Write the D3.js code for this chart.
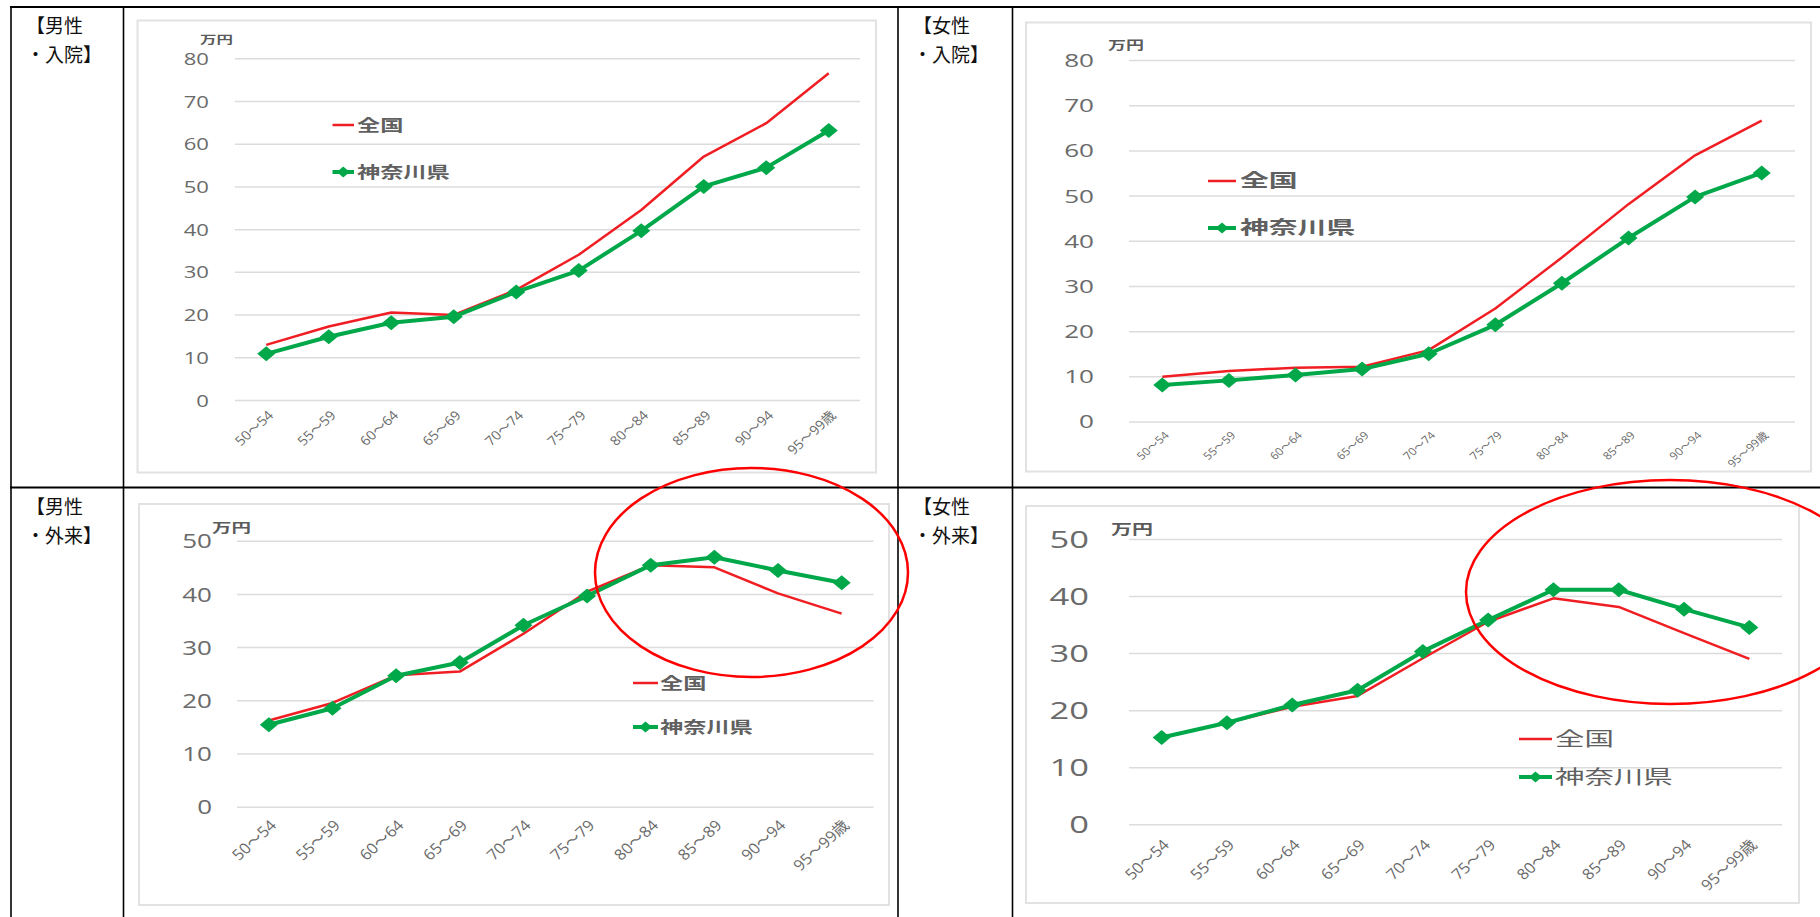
<!DOCTYPE html>
<html>
<head>
<meta charset="utf-8">
<script src="https://cdn.jsdelivr.net/npm/d3@7"></script>
<style>
  html, body { margin: 0; padding: 0; background: #fff; }
  svg { display: block; }
</style>
</head>
<body>
<svg id="chart" width="1820" height="917"></svg>
<script>
// ---- data -------------------------------------------------------------
const ageGroups = ["50～54", "55～59", "60～64", "65～69", "70～74",
                   "75～79", "80～84", "85～89", "90～94", "95～99歳"];
const seriesNames = ["全国", "神奈川県"];
const unitLabel = "万円";
const inpatientTicks = [0, 10, 20, 30, 40, 50, 60, 70, 80];
const outpatientTicks = [0, 10, 20, 30, 40, 50];

// 男性・入院
const maleInpatientNational = [12.9, 17.2, 20.5, 19.9, 25.8, 34.0, 44.5, 57.0, 64.8, 76.5];
const maleInpatientKanagawa = [10.8, 14.8, 18.1, 19.5, 25.3, 30.3, 39.6, 50.0, 54.4, 63.1];
// 女性・入院
const femaleInpatientNational = [9.9, 11.2, 11.9, 12.1, 15.8, 25.0, 36.3, 48.1, 58.9, 66.6];
const femaleInpatientKanagawa = [8.1, 9.1, 10.3, 11.6, 15.0, 21.4, 30.6, 40.6, 49.7, 55.0];
// 男性・外来
const maleOutpatientNational = [16.2, 19.5, 24.7, 25.4, 32.5, 40.4, 45.4, 45.0, 40.1, 36.3];
const maleOutpatientKanagawa = [15.4, 18.5, 24.6, 27.1, 34.1, 39.6, 45.4, 46.9, 44.4, 42.1];
// 女性・外来
const femaleOutpatientNational = [15.2, 17.8, 20.6, 22.5, 29.1, 35.5, 39.6, 38.1, 33.5, 29.0];
const femaleOutpatientKanagawa = [15.2, 17.8, 20.9, 23.5, 30.3, 35.8, 41.1, 41.1, 37.7, 34.5];

const panelTitles = [["【男性", "・入院】"], ["【女性", "・入院】"],
                     ["【男性", "・外来】"], ["【女性", "・外来】"]];

// ---- styles -----------------------------------------------------------
const RED = "#f01e23";
const GREEN = "#00a84a";
const GRID = "#dcdcdc";
const LABEL = "#6a6a6a";
const NUM_FONT = "'Open Sans', 'Noto Sans CJK JP', sans-serif";
const CJK_FONT = "'Noto Sans CJK JP', sans-serif";

const svg = d3.select("#chart");
svg.append("rect").attr("width", 1820).attr("height", 917).attr("fill", "#fff");

// ---- panel layout -----------------------------------------------------
const panels = [
  { title: panelTitles[0], titleX: 26, titleY: 33,
    national: maleInpatientNational, kanagawa: maleInpatientKanagawa, ticks: inpatientTicks,
    box: [137.5, 20.5, 876, 472.5],
    plot: { left: 235, right: 860, top: 58.3, bottom: 400 },
    tickRight: 209, tickSize: 17, sx: 1.3,
    unit: { x: 200, y: 44, size: 11 },
    legend: { x0: 332.5, x1: 354, y: [125, 172], tx: 357, size: 16, sx: 1.45, weight: 700 },
    xl: { dy: 13, size: 13, sx: 1.1 } },
  { title: panelTitles[1], titleX: 913, titleY: 33,
    national: femaleInpatientNational, kanagawa: femaleInpatientKanagawa, ticks: inpatientTicks,
    box: [1026, 22.5, 1811, 471.5],
    plot: { left: 1129, right: 1795, top: 60, bottom: 421.5 },
    tickRight: 1094, tickSize: 18, sx: 1.45,
    unit: { x: 1108, y: 50, size: 12 },
    legend: { x0: 1208, x1: 1236, y: [181, 228], tx: 1240, size: 18, sx: 1.6, weight: 700 },
    xl: { dy: 12, size: 10.5, sx: 1.15 } },
  { title: panelTitles[2], titleX: 26, titleY: 514,
    national: maleOutpatientNational, kanagawa: maleOutpatientKanagawa, ticks: outpatientTicks,
    box: [139, 504, 889, 905],
    plot: { left: 237, right: 873.5, top: 540.7, bottom: 806.7 },
    tickRight: 212, tickSize: 20, sx: 1.3,
    unit: { x: 212, y: 532, size: 13 },
    legend: { x0: 633, x1: 658, y: [683, 727], tx: 660, size: 16, sx: 1.45, weight: 700 },
    xl: { dy: 16, size: 15, sx: 1.1 } },
  { title: panelTitles[3], titleX: 913, titleY: 514,
    national: femaleOutpatientNational, kanagawa: femaleOutpatientKanagawa, ticks: outpatientTicks,
    box: [1026, 506, 1799, 903],
    plot: { left: 1129, right: 1782, top: 539, bottom: 824.3 },
    tickRight: 1089, tickSize: 23, sx: 1.5,
    unit: { x: 1111, y: 534, size: 14 },
    legend: { x0: 1519, x1: 1552, y: [739, 777], tx: 1555, size: 19, sx: 1.55, weight: 400 },
    xl: { dy: 18, size: 15, sx: 1.1 } }
];

function diamond(hw, hh) {
  return `M0,${-hh}L${hw},0L0,${hh}L${-hw},0Z`;
}

// ---- table frame ------------------------------------------------------
const frame = svg.append("g").attr("stroke", "#000").attr("fill", "none");
frame.append("line").attr("x1", 10).attr("x2", 1820).attr("y1", 7).attr("y2", 7).attr("stroke-width", 2);
frame.append("line").attr("x1", 10).attr("x2", 1820).attr("y1", 487.5).attr("y2", 487.5).attr("stroke-width", 2);
[11, 123.5, 898, 1012.5].forEach(xv => {
  frame.append("line").attr("x1", xv).attr("x2", xv).attr("y1", 6).attr("y2", 917).attr("stroke-width", 1.6);
});

// ---- panels -----------------------------------------------------------
panels.forEach(p => {
  // row label in the table cell
  const t = svg.append("g").attr("font-family", CJK_FONT).attr("font-size", 19).attr("fill", "#111");
  t.append("text").attr("x", p.titleX).attr("y", p.titleY).text(p.title[0]);
  t.append("text").attr("x", p.titleX).attr("y", p.titleY + 29).text(p.title[1]);

  const g = svg.append("g");
  const [bx0, by0, bx1, by1] = p.box;
  g.append("rect").attr("x", bx0).attr("y", by0).attr("width", bx1 - bx0).attr("height", by1 - by0)
    .attr("fill", "#fff").attr("stroke", "#e2e2e2").attr("stroke-width", 2);

  const x = d3.scalePoint().domain(ageGroups).range([p.plot.left, p.plot.right]).padding(0.5);
  const y = d3.scaleLinear().domain([0, d3.max(p.ticks)]).range([p.plot.bottom, p.plot.top]);
  const pad = p.plot.left - p.tickRight;

  // gridlines and value labels
  const ya = g.append("g").attr("transform", `translate(${p.plot.left},0)`)
    .call(d3.axisLeft(y).tickValues(p.ticks).tickSize(-(p.plot.right - p.plot.left)).tickPadding(pad));
  ya.select(".domain").remove();
  ya.selectAll(".tick line").attr("stroke", GRID).attr("stroke-width", 1.5);
  ya.selectAll(".tick text")
    .attr("x", 0).attr("dy", "0.36em")
    .attr("transform", `translate(${-pad},0) scale(${p.sx},1)`)
    .attr("fill", LABEL).attr("font-size", p.tickSize).attr("font-family", NUM_FONT);

  // age-group labels
  const xa = g.append("g").attr("transform", `translate(0,${p.plot.bottom})`)
    .call(d3.axisBottom(x).tickSize(0));
  xa.select(".domain").remove();
  xa.selectAll(".tick text")
    .attr("y", 0).attr("dy", "0.35em").attr("text-anchor", "end")
    .attr("transform", `translate(4,${p.xl.dy}) scale(${p.xl.sx},1) rotate(-45)`)
    .attr("fill", LABEL).attr("font-size", p.xl.size).attr("font-family", NUM_FONT);

  // unit label
  g.append("text").attr("x", 0).attr("y", 0)
    .attr("transform", `translate(${p.unit.x},${p.unit.y}) scale(1.5,1)`)
    .attr("font-family", CJK_FONT).attr("font-size", p.unit.size).attr("font-weight", 700)
    .attr("fill", "#5a5a5a").text(unitLabel);

  // series lines
  const line = d3.line().x((d, i) => x(ageGroups[i])).y(d => y(d));
  g.append("path").datum(p.national).attr("d", line)
    .attr("fill", "none").attr("stroke", RED).attr("stroke-width", 2.5).attr("stroke-linejoin", "round");
  g.append("path").datum(p.kanagawa).attr("d", line)
    .attr("fill", "none").attr("stroke", GREEN).attr("stroke-width", 4).attr("stroke-linejoin", "round");
  g.selectAll(".marker").data(p.kanagawa).join("path").attr("class", "marker")
    .attr("d", diamond(9, 7.5))
    .attr("transform", (d, i) => `translate(${x(ageGroups[i])},${y(d)})`)
    .attr("fill", GREEN);

  // legend
  const L = p.legend;
  const lg = g.append("g");
  lg.append("line").attr("x1", L.x0).attr("x2", L.x1).attr("y1", L.y[0]).attr("y2", L.y[0])
    .attr("stroke", RED).attr("stroke-width", 2.5);
  lg.append("line").attr("x1", L.x0).attr("x2", L.x1).attr("y1", L.y[1]).attr("y2", L.y[1])
    .attr("stroke", GREEN).attr("stroke-width", 4);
  lg.append("path").attr("d", diamond(6.5, 5.5))
    .attr("transform", `translate(${(L.x0 + L.x1) / 2},${L.y[1]})`).attr("fill", GREEN);
  seriesNames.forEach((name, k) => {
    lg.append("text").attr("x", 0).attr("y", 0).attr("dy", "0.36em")
      .attr("transform", `translate(${L.tx},${L.y[k]}) scale(${L.sx},1)`)
      .attr("font-family", CJK_FONT).attr("font-size", L.size).attr("font-weight", L.weight)
      .attr("fill", "#606060").text(name);
  });
});

// ---- highlight rings around the oldest age groups ---------------------
const rings = svg.append("g").attr("fill", "none").attr("stroke", "#ff0000").attr("stroke-width", 2.5);
rings.append("ellipse").attr("cx", 751.5).attr("cy", 572.5).attr("rx", 156.5).attr("ry", 104.5);
rings.append("ellipse").attr("cx", 1670).attr("cy", 592).attr("rx", 204).attr("ry", 112);
</script>
</body>
</html>
